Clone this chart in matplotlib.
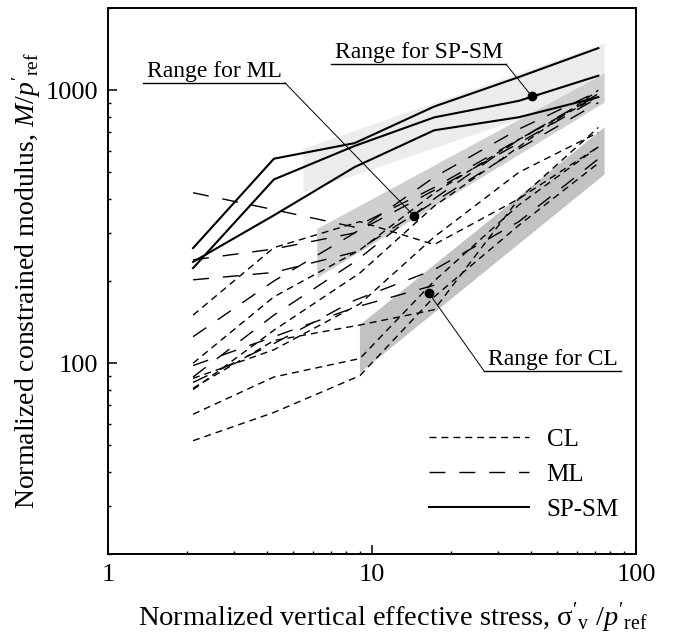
import matplotlib
matplotlib.use("Agg")
import matplotlib.pyplot as plt
from matplotlib.lines import Line2D
from matplotlib.transforms import IdentityTransform
from matplotlib.ticker import FixedLocator, LogLocator, NullFormatter, FixedFormatter

plt.rcParams['font.family'] = ['Liberation Serif', 'DejaVu Serif']
plt.rcParams['mathtext.fontset'] = 'custom'
plt.rcParams['mathtext.rm'] = 'Liberation Serif'
plt.rcParams['mathtext.it'] = 'Liberation Serif:italic'

# load steps (normalized vertical effective stress)
x_steps = [2.1, 4.25, 8.6, 17.2, 36, 72]
x_cl = [2.1, 4.25, 9.0, 17.2, 36, 72]
x_short = [2.1, 4.25, 8.6, 17.2]

# CL curves (short dash)
cl_a = [52, 66, 90, 175, 320, 540]
cl_b = [65, 89, 104, 200, 380, 620]
cl_c = [81, 121, 138, 157, 400, 730]
cl_d = [80, 132, 214, 376, 620, 1000]
cl_e = [150, 265, 330, 272, 400, 620]
cl_f = [88, 112, 165, 290, 500, 700]
cl_g = [100, 175, 260, 420, 660, 950]

# ML curves (long dash)
ml_a = [421, 365, 315, 440, 660, 960]
ml_b = [239, 262, 300, 430, 640, 940]
ml_c = [202, 215, 255, 390, 610, 900]
ml_d = [125, 200, 300, 480, 720, 990]
ml_e = [89, 150, 235, 400, 660, 970]
ml_f = [98, 125, 160, 193]
ml_g = [85, 118, 170, 220, 330, 560]

# SP-SM curves (solid)
sp_a = [264, 561, 640, 871, 1117, 1426]
sp_b = [223, 471, 625, 795, 914, 1130]
sp_c = [235, 348, 523, 713, 796, 943]

# shaded ranges
sp_band_x = [5.5, 76, 76, 5.5]
sp_band_y = [421, 1000, 1480, 610]
ml_band_x = [6.2, 76, 76, 6.2]
ml_band_y = [205, 900, 1150, 310]
cl_band_x = [9.0, 76, 76, 9.0]
cl_band_y = [92, 491, 730, 138]

# points the range labels point at
sp_dot = (40.2, 953)
ml_dot = (14.4, 347)
cl_dot = (16.4, 181)

CL_DASH = (5, 3.6)
ML_DASH = (11.5, 10)


def main():
    fig = plt.figure(figsize=(6.87, 6.40), dpi=100)
    ax = fig.add_axes([108 / 687, 86 / 640, 528 / 687, 546 / 640])
    ax.set_xscale('log')
    ax.set_yscale('log')

    ax.fill(sp_band_x, sp_band_y, color='#ececec', lw=0, zorder=1)
    ax.fill(ml_band_x, ml_band_y, color='#cfcfcf', lw=0, zorder=1)
    ax.fill(cl_band_x, cl_band_y, color='#c2c2c2', lw=0, zorder=1)

    for y in [cl_a, cl_b, cl_c, cl_d, cl_e, cl_f, cl_g]:
        ax.plot(x_cl, y, color='k', lw=1.0, dashes=CL_DASH, zorder=3)
    for y in [ml_a, ml_b, ml_c, ml_d, ml_e, ml_g]:
        ax.plot(x_steps, y, color='k', lw=1.0, dashes=ML_DASH, zorder=3)
    ax.plot(x_short, ml_f, color='k', lw=1.0, dashes=ML_DASH, zorder=3)
    for y in [sp_a, sp_b, sp_c]:
        ax.plot(x_steps, y, color='k', lw=1.5, zorder=4)

    ax.set_xlim(1, 100)
    ax.set_ylim(20, 2000)
    ax.xaxis.set_major_locator(FixedLocator([1, 10, 100]))
    ax.xaxis.set_major_formatter(FixedFormatter(['1', '10', '100']))
    ax.yaxis.set_major_locator(FixedLocator([100, 1000]))
    ax.yaxis.set_major_formatter(FixedFormatter(['100', '1000']))
    ax.xaxis.set_minor_locator(LogLocator(base=10, subs=range(2, 10)))
    ax.yaxis.set_minor_locator(LogLocator(base=10, subs=range(2, 10)))
    ax.xaxis.set_minor_formatter(NullFormatter())
    ax.yaxis.set_minor_formatter(NullFormatter())
    ax.tick_params(which='both', direction='in', top=False, right=False,
                   labelsize=19)
    ax.tick_params(which='major', length=6.5, width=1.1, pad=7)
    ax.tick_params(which='minor', length=2.5, width=1.0)
    for s in ax.spines.values():
        s.set_linewidth(1.4)

    ax.set_xlabel(r"Normalized vertical effective stress, $\mathrm{\sigma}'_{\mathrm{v}}$ /$p'_{\mathrm{ref}}$",
                  fontsize=20.5, labelpad=11)
    ax.xaxis.set_label_coords(0.54, -0.085)
    ax.set_ylabel(r"Normalized constrained modulus, $M/p'_{\mathrm{ref}}$",
                  fontsize=20, labelpad=2)

    handles = [
        Line2D([], [], color='k', lw=1.0, dashes=CL_DASH),
        Line2D([], [], color='k', lw=1.0, dashes=ML_DASH),
        Line2D([], [], color='k', lw=1.5),
    ]
    ax.legend(handles, ['CL', 'ML', 'SP-SM'], loc='upper left',
              bbox_to_anchor=(0.608, 0.230), frameon=False, fontsize=18,
              handlelength=4.0, handletextpad=0.7, labelspacing=0.5,
              borderpad=0, borderaxespad=0)

    # range labels with underline and leader line
    labels = [
        ("Range for SP-SM", 0.43, 0.908, sp_dot, 'right'),
        ("Range for ML", 0.074, 0.874, ml_dot, 'right'),
        ("Range for CL", 0.72, 0.346, cl_dot, 'left'),
    ]
    texts = []
    for s, tx, ty, dot, side in labels:
        t = ax.text(tx, ty, s, transform=ax.transAxes, fontsize=17,
                    ha='left', va='baseline', zorder=6)
        ax.plot(dot[0], dot[1], 'o', color='k', ms=6, zorder=7)
        texts.append((t, dot, side))

    fig.canvas.draw()
    r = fig.canvas.get_renderer()
    for t, dot, side in texts:
        bb = t.get_window_extent(r)
        x0, x1, y = bb.x0 - 4, bb.x1 + 3, bb.y0 - 1
        fig.add_artist(Line2D([x0, x1], [y, y], color='k', lw=1.0,
                              transform=IdentityTransform(), zorder=6))
        dx, dy = ax.transData.transform(dot)
        sx = x1 if side == 'right' else x0
        fig.add_artist(Line2D([sx, dx], [y, dy], color='k', lw=0.7,
                              transform=IdentityTransform(), zorder=6))

    fig.savefig('out.png', dpi=100)


if __name__ == "__main__":
    main()
